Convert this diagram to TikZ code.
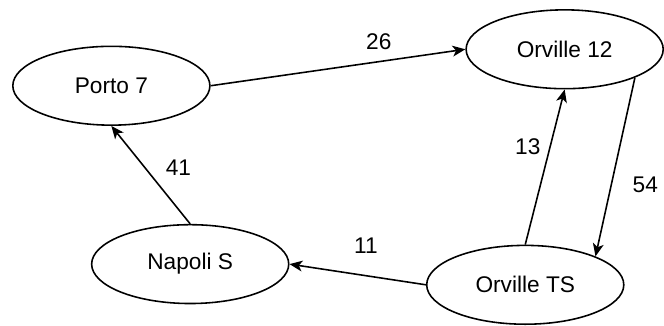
\documentclass[tikz,border=0pt]{standalone}
\usepackage{fontspec}
\setmainfont{Liberation Sans}
\usepackage{tikz}
\usetikzlibrary{positioning, calc, arrows.meta, shapes.geometric}
\tikzset{city/.style={ellipse, draw, line width=1.6pt, minimum width=200pt, minimum height=80pt, inner sep=0pt, font=\fontsize{23}{27}\selectfont}}
\tikzset{arr/.style={draw, line width=1.6pt, -{Stealth[length=13pt, width=11pt, inset=3.5pt]}}}
\tikzset{lbl/.style={font=\fontsize{23}{27}\selectfont, inner sep=0pt}}

\begin{document}
\begin{tikzpicture}[node distance=1pt, on grid]
			\node[city] (porto) {Porto 7};
			\node[city, above right=37pt and 460pt of porto] (orv12) {Orville 12};
			\node[city, below right=181pt and 80pt of porto] (napoli) {Napoli S};
			\node[city, below right=202pt and 420pt of porto] (orvts) {Orville TS};
			\useasboundingbox ($(porto.center)+(-113pt,87pt)$) rectangle ++(664pt,-329pt);
			\draw[arr] (porto.east) -- node[lbl, pos=0.66, above=11pt]{26} (orv12.west);
			\draw[arr] (napoli.north) -- node[lbl, pos=0.57, right=20pt]{41} (porto.south);
			\draw[arr] (orvts.west) -- node[lbl, pos=0.44, above=22pt]{11} (napoli.east);
			\draw[arr] (orvts.north) -- node[lbl, pos=0.63, left=9pt]{13} (orv12.south);
			\draw[arr] (orv12.south east) -- node[lbl, pos=0.6, right=21pt]{54} (orvts.north east);
		\end{tikzpicture}
\end{document}
